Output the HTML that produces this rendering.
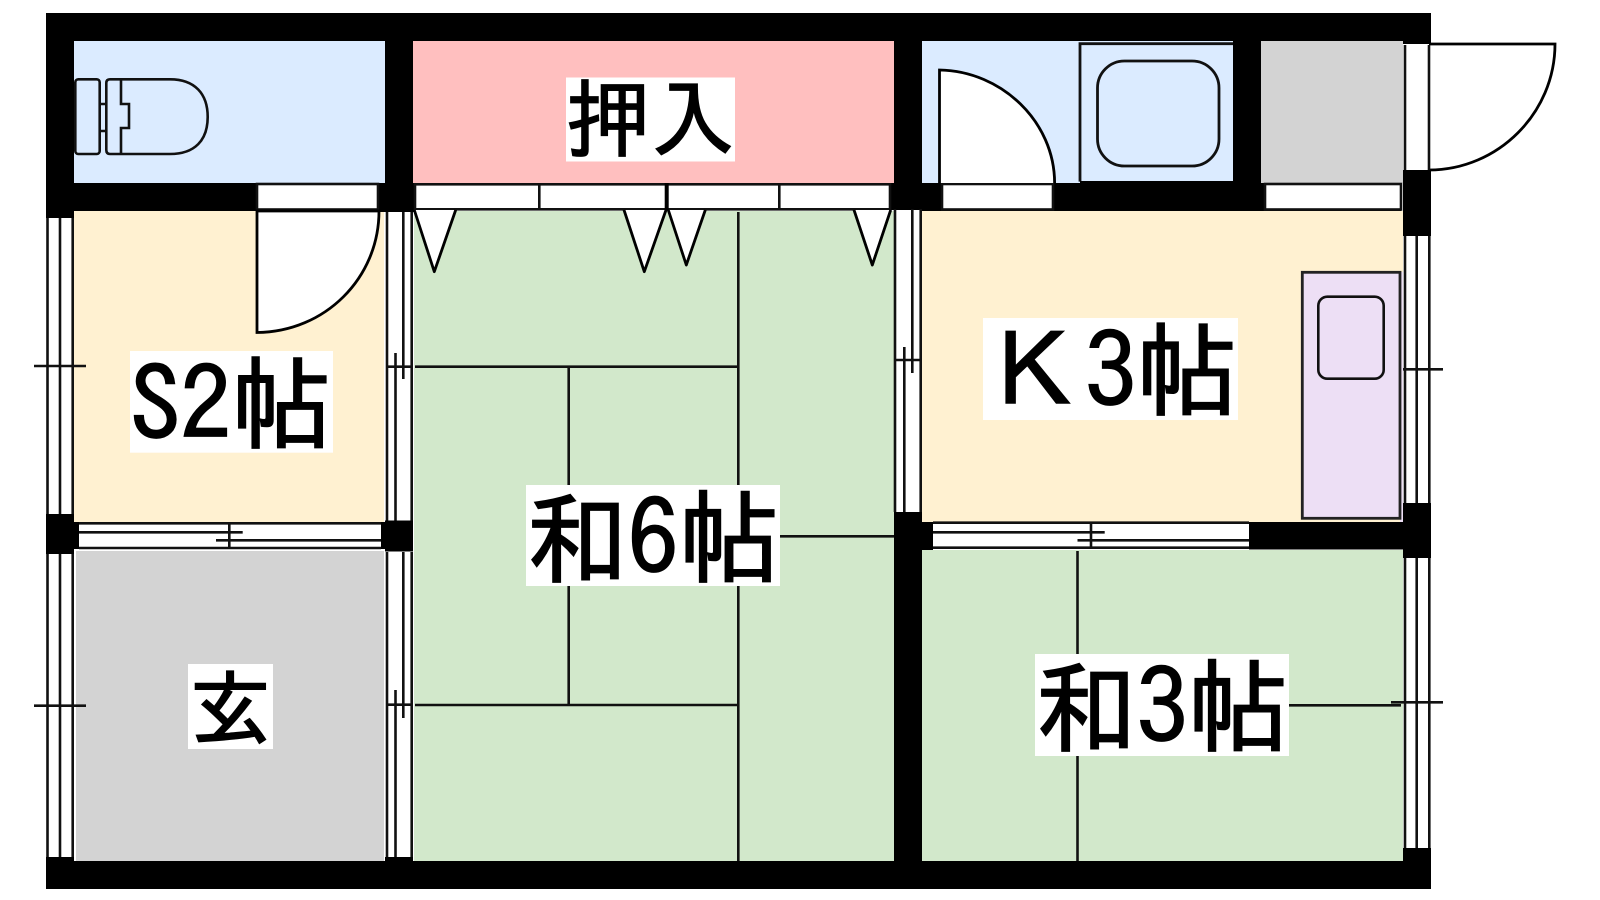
<!DOCTYPE html>
<html lang="ja"><head><meta charset="utf-8"><title>間取り図</title>
<style>
html,body{margin:0;padding:0;background:#fff}
svg{display:block}
text{font-family:"IPAGothic","Noto Sans CJK JP",sans-serif;fill:#000;stroke:#000;stroke-width:1.7;white-space:pre}
</style></head><body>
<svg width="1600" height="900" viewBox="0 0 1600 900" xmlns="http://www.w3.org/2000/svg">
<rect width="1600" height="900" fill="#fff"/>
<!-- room fills -->
<rect x="74" y="41" width="311" height="142" fill="#dbebff"/>
<rect x="413" y="41" width="481" height="142" fill="#ffbfbf"/>
<rect x="922" y="41" width="311" height="142" fill="#dbebff"/>
<rect x="1261" y="41" width="142" height="142" fill="#d3d3d3"/>
<rect x="74" y="211" width="310" height="311" fill="#fff1d1"/>
<rect x="76" y="551" width="308" height="310" fill="#d3d3d3"/>
<rect x="414" y="211" width="480" height="650" fill="#d2e8cb"/>
<rect x="922" y="211" width="481" height="311" fill="#fff1d1"/>
<rect x="922" y="550" width="481" height="311" fill="#d2e8cb"/>
<!-- walls -->
<g fill="#000">
<rect x="46" y="13" width="1385" height="28"/>
<rect x="46" y="861" width="1385" height="28"/>
<rect x="46" y="13" width="28" height="205"/>
<rect x="46" y="183" width="211" height="28"/>
<rect x="385" y="13" width="28" height="199"/>
<rect x="378" y="183" width="37" height="29"/>
<rect x="890" y="183" width="52" height="27"/>
<rect x="894" y="13" width="28" height="197"/>
<rect x="1233" y="13" width="28" height="197"/>
<rect x="922" y="183" width="479" height="28"/>
<rect x="1403" y="13" width="28" height="31"/>
<rect x="1403" y="170" width="28" height="66"/>
<rect x="1403" y="503" width="28" height="55"/>
<rect x="1249" y="522" width="154" height="27.5"/>
<rect x="46" y="514" width="28" height="40"/>
<rect x="74" y="522" width="5" height="27"/>
<rect x="385" y="520.5" width="28" height="31"/>
<rect x="381" y="522" width="4" height="27"/>
<rect x="385" y="857" width="28" height="4"/>
<rect x="46" y="857" width="28" height="4"/>
<rect x="1403" y="848" width="28" height="13"/>
<rect x="894" y="512" width="28" height="349"/>
<rect x="922" y="522" width="11" height="28"/>
</g>
<!-- openings -->
<g fill="#fff" stroke="#111" stroke-width="2.6">
<rect x="257" y="184" width="121" height="25.5"/>
<rect x="415" y="184.3" width="475" height="25"/>
<rect x="942" y="184" width="111" height="25.5"/>
<rect x="1265" y="184" width="136" height="25.5"/>
</g>
<!-- door leaves -->
<g fill="#fff" stroke="#000" stroke-width="2.8">
<path d="M257 211V332.5C325 332 379 278 379 211Z"/>
<path d="M939.5 183V70C1002 71 1054.6 122 1054.6 183"/>
<path d="M1429 44H1555C1555 113 1498 170 1429 170"/>
</g>
<rect x="1405" y="45" width="24" height="125" fill="#fff"/>
<!-- window frames -->
<g stroke="#111" stroke-width="2.6" fill="none">
<path d="M1405 45V170M1429 45V170"/>
<path d="M47.5 218V514M60 218V514M72.7 218V514"/>
<path d="M47.5 554V857M60 554V857M72.7 554V857"/>
<path d="M34 366H86M34 705.7H86"/>
<path d="M387 212V520.5M411.7 212V520.5M403.3 212V379M395.5 353V520.5M387 366.7H412"/>
<path d="M387 552V857M411.7 552V857M403.3 552V718M395.5 690V857M387 704.7H412"/>
<path d="M895 209V512M920.7 209V512M912.3 209V373M904.3 347V512M895 360H921"/>
<path d="M1405 236V503M1416.7 236V503M1429.3 236V503M1391 369.3H1443"/>
<path d="M1405 558V848M1416.7 558V848M1429.3 558V848M1391 702.3H1443" />
<path d="M79 523.3H381M79 548H381M79 532.3H242.7M216 540.3H381M229.3 523V548"/>
<path d="M933 522.7H1249M933 547.7H1249M933 532.3H1104.7M1077.5 540.3H1249M1091 523V548"/>
</g>
<!-- closet dividers -->
<path d="M539.3 184V209M779.3 184V209" stroke="#111" stroke-width="2.6"/>
<path d="M666.7 183V210" stroke="#000" stroke-width="4"/>
<!-- closet door triangles -->
<g fill="#fff" stroke="#000" stroke-width="2.8" stroke-linejoin="round">
<path d="M414.3 210L434.3 271.7L455.7 210"/>
<path d="M624 210L644.3 271.7L666 210"/>
<path d="M668.3 210L686.3 265L705.3 210"/>
<path d="M854 210L872.3 265L890.7 210"/>
</g>
<!-- tatami lines -->
<g stroke="#111" stroke-width="2.6" fill="none">
<path d="M738.3 212V861M415 366.7H738M568.7 367V705M415 705H738M738 536.3H894"/>
<path d="M1077.5 551V861M1077 705.3H1401"/>
</g>
<!-- toilet -->
<g fill="none" stroke="#111" stroke-width="2.6">
<rect x="75.3" y="79.3" width="24.4" height="74.7" rx="3"/>
<path d="M100 104H106M100 131H106"/>
<path d="M110 79.3H170C195 79.3 207.7 94 207.7 117C207.7 140 195 154 170 154H110Q106.3 154 106.3 150V83Q106.3 79.3 110 79.3Z"/>
<path d="M121 79.3V104H129V128H121V154"/>
</g>
<!-- bath -->
<path d="M1080 181.6V43.7H1233" fill="none" stroke="#111" stroke-width="2.8"/>
<rect x="1080" y="181" width="153" height="2" fill="#000"/>
<rect x="1097.5" y="61" width="121.5" height="105" rx="27" fill="none" stroke="#111" stroke-width="2.8"/>
<!-- counter -->
<rect x="1400" y="272" width="3" height="250" fill="#eddff5"/>
<rect x="1302.3" y="272.3" width="97.7" height="246" fill="#eddff5" stroke="#222" stroke-width="2.8"/>
<rect x="1318.3" y="296.7" width="65.4" height="82" rx="9" fill="none" stroke="#111" stroke-width="2.6"/>
<!-- labels -->
<rect x="566" y="77.5" width="169" height="84" fill="#fff"/>
<text x="566" y="150" font-size="84.5">押入</text>
<rect x="130" y="351" width="203" height="101.7" fill="#fff"/>
<text x="130" y="441" font-size="101">S2帖</text>
<rect x="526" y="485" width="254" height="101" fill="#fff"/>
<text x="526" y="575" font-size="101.6">和6帖</text>
<rect x="983" y="318" width="255" height="102" fill="#fff"/>
<text x="983" y="408" font-size="102">&#xFF2B;3帖</text>
<rect x="1035" y="654" width="254" height="102" fill="#fff"/>
<text x="1035" y="744" font-size="101.6">和3帖</text>
<rect x="188" y="664" width="85" height="85" fill="#fff"/>
<text x="189.5" y="738.5" font-size="82">玄</text>
</svg>
</body></html>
